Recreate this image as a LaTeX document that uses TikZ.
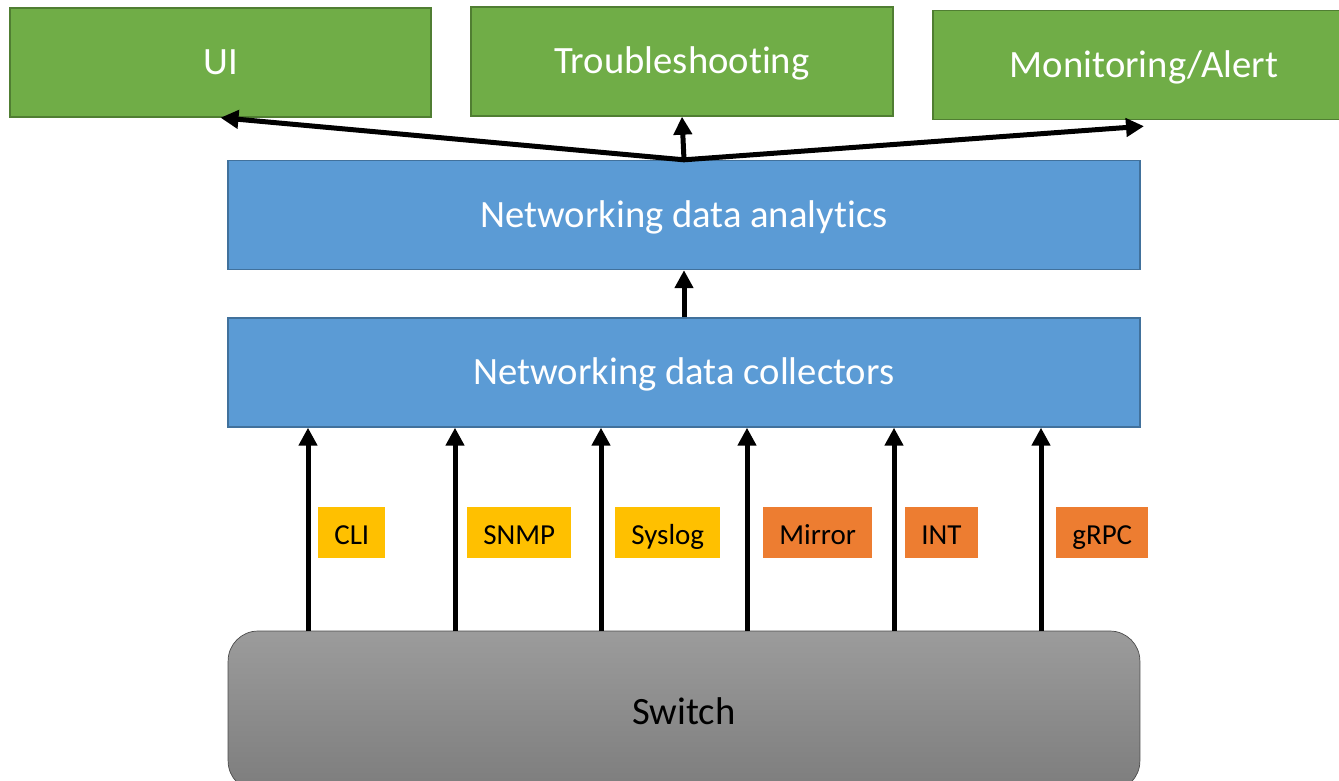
\documentclass[tikz,border=0pt]{standalone}
\usepackage{fontspec}
\setmainfont[Ligatures=NoCommon, Contextuals=NoAlternate]{Carlito}
\usetikzlibrary{arrows.meta}

\definecolor{appgreen}{HTML}{70AD47}
\definecolor{appgreenline}{HTML}{507E32}
\definecolor{layerblue}{HTML}{5B9BD5}
\definecolor{layerblueline}{HTML}{41719C}
\definecolor{protoyellow}{HTML}{FFC000}
\definecolor{protoorange}{HTML}{ED7D31}

\begin{document}
\begin{tikzpicture}[x=0.02cm, y=-0.02cm,
	app/.style = {draw = appgreenline, fill = appgreen, line width = 0.8pt, text = white, minimum height = 2.18cm, text height = 17pt, text depth = 3pt, font = \fontsize{22}{26}\selectfont},
	layer/.style = {draw = layerblueline, fill = layerblue, line width = 0.8pt, text = white, minimum width = 18.24cm, minimum height = 2.18cm, text height = 17pt, text depth = 3pt, font = \fontsize{22}{26}\selectfont},
	proto/.style = {inner xsep = 0.32cm, minimum height = 1.02cm, text height = 15pt, text depth = 1pt, font = \fontsize{16.5}{19}\selectfont, anchor = west},
	feed/.style = {line width = 0.1cm, -{Triangle[length = 0.36cm, width = 0.36cm]}}]
			\useasboundingbox (0,0) rectangle (1339,781);
			\node[app, minimum width = 8.42cm] (ui) at (220.5,62.5) {UI};
			\node[app, minimum width = 8.44cm] (trouble) at (682,61.5) {Troubleshooting};
			\node[app, minimum width = 8.44cm] (monitor) at (1144,65) {Monitoring/Alert};
			\node[layer] (analytics) at (684,215) {Networking data analytics};
			\node[layer] (collect) at (684,372.5) {Networking data collectors};
			\node[draw = black!70, rounded corners = 0.6cm, top color = black!39, bottom color = black!51, minimum width = 18.24cm, minimum height = 3.2cm, font = \fontsize{22}{26}\selectfont] (switch) at (684,711) {Switch};
			\draw[feed] (collect.north) -- (analytics.south);
			\draw[feed] (analytics.north) -- (ui.south);
			\draw[feed] (analytics.north) -- (trouble.south);
			\draw[feed] (analytics.north) -- ([yshift = -0.12cm]monitor.south);
			\foreach \x/\gap/\txt/\col [count = \i] in {308/10/CLI/protoyellow, 455/12/SNMP/protoyellow, 601/14/Syslog/protoyellow, 747/16/Mirror/protoorange, 894/11/INT/protoorange, 1041/15/gRPC/protoorange}{
				\coordinate (port\i) at (\x,631);
				\draw[feed] (port\i) -- (collect.south -| port\i);
				\node[proto, fill = \col] (tag\i) at (\x+\gap,532.5) {\txt};
			}
\end{tikzpicture}
\end{document}
